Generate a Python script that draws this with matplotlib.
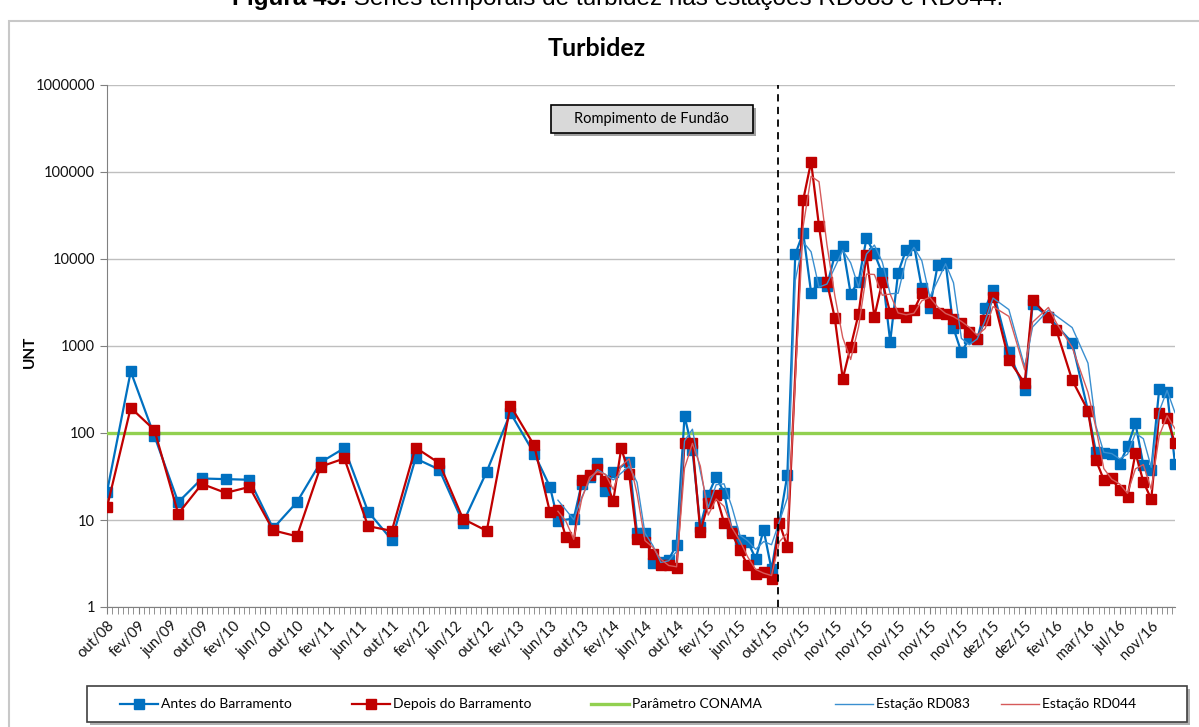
import matplotlib.pyplot as plt
import numpy as np
from matplotlib.lines import Line2D
from matplotlib.patches import Rectangle
from matplotlib.ticker import FixedLocator, MultipleLocator, NullFormatter

plt.rcParams['font.family'] = ['Lato', 'DejaVu Sans']

# sampling slot on the category axis (one slot = 1/4 of a label step)
slots = [0, 3, 6, 9, 12, 15, 18, 21, 24, 27, 30, 33, 36, 39, 42, 45, 48, 51, 54,
         56, 57, 58, 59, 60, 61, 62, 63, 64, 65, 66, 67, 68, 69, 70, 71, 72, 73,
         74, 75, 76, 77, 78, 79, 80, 81, 82, 83, 84, 85, 86, 87, 88, 89, 90, 91,
         92, 93, 94, 95, 96, 97, 98, 99, 100, 101, 102, 103, 104, 105, 106, 107,
         108, 109, 110, 111, 112, 114, 116, 117, 119, 120, 122, 124, 125, 126,
         127, 128, 129, 130, 131, 132, 133, 134, 135]

nan = float('nan')
# turbidity (UNT) upstream of the dam - RD083
antes = [21, 510, 92, 16, 30, 29.5, 29, 8, 16, 46, 67, 12.5, 5.9, 51, 38, 9.3, 36, 170, 58,
         24, 9.8, nan, 10.4, 26, 31, 45, 21.7, 36, nan, 47, 7.1, 7, 3.2, 3.3, 3.5, 5.2, 157,
         64, 8.4, 19.4, 31.5, 20.6, 7.5, 5.9, 5.6, 3.6, 7.7, 2.7, nan, 33, 11300, 20100, 4100,
         5400, 4900, 11100, 14100, 4000, 5500, 17300, 11600, 6840, 1120, 6960, 12700, 14500,
         4600, 2710, 8530, 9070, 1600, 846, 1220, 1190, 2710, 4400, 846, 312, 3000, 2170, nan,
         1090, 181, 61, 59, 57, 44, 70, 129, 43, 37.6, 318, 299, 44]
# turbidity (UNT) downstream of the dam - RD044
depois = [14, 195, 108, 11.8, 26, 20.5, 24, 7.6, 6.5, 41, 51, 8.5, 7.5, 68, 45, 10.3, 7.5, 206, 72,
          12.2, 13, 6.4, 5.6, 29, 33, 39, 28, 16.7, 67, 34, 6, 5.6, 4.1, 3.0, 3.0, 2.8, 76,
          76, 7.3, 15.5, 19.4, 9.3, 7.0, 4.5, 3.0, 2.4, 2.5, 2.1, 9.2, 4.9, nan, 47600, 131000,
          23900, 5500, 2080, 420, 980, 2330, 11100, 2170, 5500, 2400, 2400, 2170, 2590,
          4030, 3230, 2400, 2330, 2020, 1820, 1460, 1190, 1990, 3690, 690, 373, 3380, 2170, 1530,
          406, 181, 49, 29, 30, 22, 18.5, 59, 27.6, 17.3, 168, 148, 76]

tick_labels = ['out/08', 'fev/09', 'jun/09', 'out/09', 'fev/10', 'jun/10', 'out/10',
               'fev/11', 'jun/11', 'out/11', 'fev/12', 'jun/12', 'out/12', 'fev/13',
               'jun/13', 'out/13', 'fev/14', 'jun/14', 'out/14', 'fev/15', 'jun/15',
               'out/15', 'nov/15', 'nov/15', 'nov/15', 'nov/15', 'nov/15', 'nov/15',
               'dez/15', 'dez/15', 'fev/16', 'mar/16', 'jul/16', 'nov/16']
label_step = 4
conama_limit = 100
rupture_slot = 84.8
trend_start = 56  # moving-average lines only where sampling is dense

legend_names = ['Antes do Barramento', 'Depois do Barramento', 'Parâmetro CONAMA',
                'Estação RD083', 'Estação RD044']

BLUE = '#0070C0'
RED = '#C00000'
GREEN = '#92D050'
BLUE_THIN = '#3a8fd0'
RED_THIN = '#d65a5a'

W, H = 1199, 727


def moving_average(x, y, start):
    keep = x >= start
    x, y = x[keep], y[keep]
    return x[1:], (y[1:] + y[:-1]) / 2


def fx(px):
    return px / W


def fy(py):
    return 1 - py / H


x = np.array(slots, dtype=float)
antes = np.array(antes, dtype=float)
depois = np.array(depois, dtype=float)
mb = ~np.isnan(antes)
mr = ~np.isnan(depois)

fig = plt.figure(figsize=(W / 100, H / 100), dpi=100)
ax = fig.add_axes([fx(107), fy(607), fx(1175 - 107), (607 - 85) / H])

series_styles = [
    dict(color=BLUE, lw=1.6, marker='s', ms=7.5),
    dict(color=RED, lw=1.6, marker='s', ms=7.5),
    dict(color=GREEN, lw=2.4),
    dict(color=BLUE_THIN, lw=1.0),
    dict(color=RED_THIN, lw=1.0),
]

ax.plot(x[mb], antes[mb], zorder=4, **series_styles[0])
ax.plot(x[mr], depois[mr], zorder=5, **series_styles[1])

xb, yb = moving_average(x[mb], antes[mb], trend_start)
xr, yr = moving_average(x[mr], depois[mr], trend_start)
ax.plot(xb, yb, zorder=6, **series_styles[3])
ax.plot(xr, yr, zorder=6, **series_styles[4])

ax.axhline(conama_limit, zorder=3, **series_styles[2])
ax.axvline(rupture_slot, color='black', lw=1.3, ls=(0, (4, 3)), zorder=7)

ax.set_yscale('log')
ax.set_ylim(1, 1e6)
ax.set_xlim(0, x.max())
ax.yaxis.set_major_locator(FixedLocator([10 ** k for k in range(7)]))
ax.yaxis.set_minor_locator(FixedLocator([]))
ax.set_yticklabels([str(10 ** k) for k in range(7)])
ax.grid(axis='y', color='#BFBFBF', lw=1)
ax.set_axisbelow(True)

ax.set_xticks(np.arange(len(tick_labels)) * label_step)
ax.set_xticklabels(tick_labels, rotation=45, ha='right', va='top', rotation_mode='anchor')
ax.xaxis.set_minor_locator(MultipleLocator(2 / 3))
ax.xaxis.set_minor_formatter(NullFormatter())

ax.tick_params(axis='both', colors='#808080', labelcolor='#111111', labelsize=10.5, length=5)
ax.tick_params(axis='x', which='minor', colors='#808080', length=5)
for side in ('top', 'right'):
    ax.spines[side].set_visible(False)
for side in ('left', 'bottom'):
    ax.spines[side].set_color('#808080')

# event box
ax.add_patch(Rectangle((0.419, 0.902), 0.189, 0.0536, transform=ax.transAxes,
                       fc='#A0A0A0', ec='none', zorder=7, clip_on=False))
ax.add_patch(Rectangle((0.4157, 0.908), 0.189, 0.0536, transform=ax.transAxes,
                       fc='#D9D9D9', ec='black', lw=1.2, zorder=8, clip_on=False))
ax.text(0.4157 + 0.189 / 2, 0.908 + 0.0536 / 2, 'Rompimento de Fundão', transform=ax.transAxes,
        ha='center', va='center', fontsize=10.5, zorder=9)

fig.text(0.498, fy(49), 'Turbidez', ha='center', va='center', fontsize=18, weight='bold')
fig.text(fx(30), fy(352), 'UNT', rotation=90, ha='center', va='center',
         fontsize=11, weight='bold')

# caption above the chart frame
cap = fig.text(fx(232), fy(5), 'Figura 45.', ha='left', va='baseline',
               fontsize=17.5, weight='bold', family=['Liberation Sans'])
ax.annotate(' Séries temporais de turbidez nas estações RD083 e RD044.', xy=(1, 0),
            xycoords=cap, ha='left', va='bottom', fontsize=17.5,
            family=['Liberation Sans'], annotation_clip=False)

# chart frame
fig.add_artist(Rectangle((fx(9), -0.1), 1.2, 1.1 - 21 / H, transform=fig.transFigure,
                         fill=False, ec='#C8C8C8', lw=1.5))

# legend: frame with a soft shadow, then one handle + label per series
fig.add_artist(Rectangle((fx(90), fy(725)), fx(1100), 36 / H,
                         transform=fig.transFigure, fc='#B0B0B0', ec='none'))
fig.add_artist(Rectangle((fx(87), fy(722)), fx(1100), 36 / H,
                         transform=fig.transFigure, fc='white', ec='#404040', lw=1.2))
legend_handle_x = [120, 352, 591, 835, 1001]
legend_y = fy(704)
for hx, name, style in zip(legend_handle_x, legend_names, series_styles):
    style = dict(style)
    marker = style.pop('marker', None)
    ms = style.pop('ms', None)
    fig.add_artist(Line2D([fx(hx), fx(hx + 38)], [legend_y, legend_y],
                          transform=fig.transFigure, **style))
    if marker:
        fig.add_artist(Line2D([fx(hx + 19)], [legend_y], transform=fig.transFigure,
                              marker=marker, ms=ms, color=style['color'], lw=0))
    fig.text(fx(hx + 41), legend_y, name, ha='left', va='center', fontsize=10)

fig.savefig('out.png', dpi=100)
